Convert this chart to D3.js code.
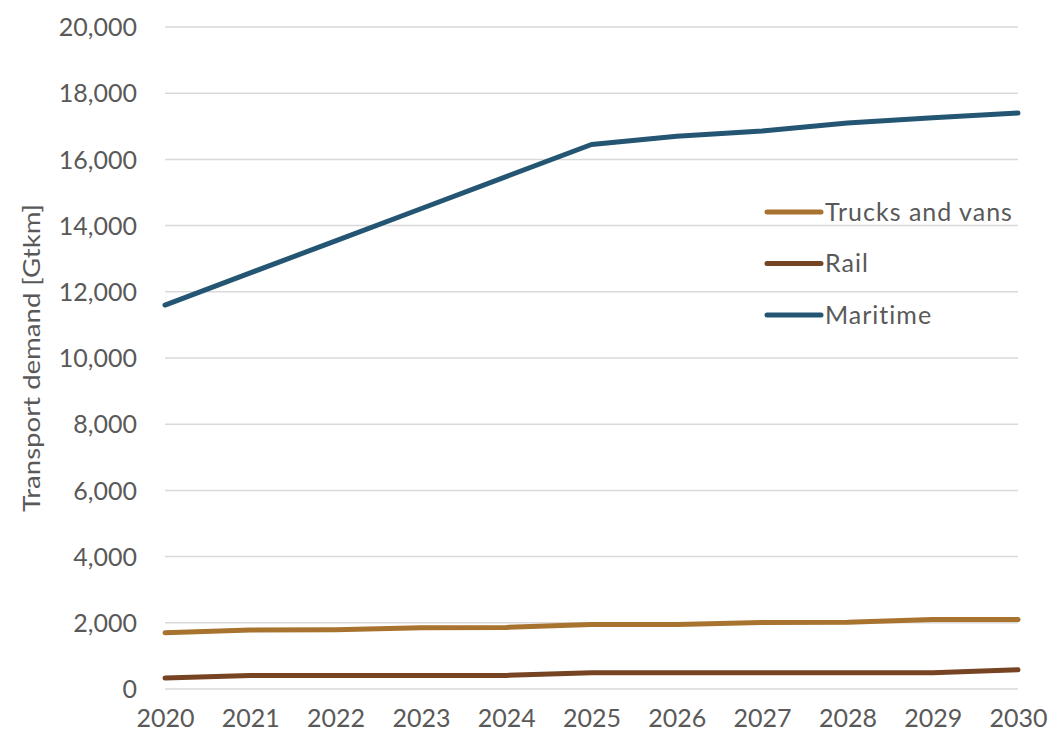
<!DOCTYPE html>
<html>
<head>
<meta charset="utf-8">
<script src="https://cdn.jsdelivr.net/npm/d3@7"></script>
<style>
  html, body { margin: 0; padding: 0; background: #fff; }
  svg text { font-family: Lato, "Open Sans", sans-serif; fill: #595959; }
</style>
</head>
<body>
<svg id="chart" width="1053" height="737"></svg>
<script>
// Freight transport demand by mode, 2020–2030 (Gtkm)
const years = [2020, 2021, 2022, 2023, 2024, 2025, 2026, 2027, 2028, 2029, 2030];
const trucksVans = [1700, 1780, 1790, 1850, 1860, 1950, 1950, 2010, 2020, 2100, 2100];
const rail = [330, 410, 410, 410, 410, 490, 490, 490, 490, 490, 580];
const maritime = [11600, 12570, 13540, 14510, 15480, 16450, 16700, 16860, 17100, 17260, 17400];
const seriesNames = ["Trucks and vans", "Rail", "Maritime"];
const seriesColors = ["#A8722F", "#764422", "#245674"];
const yTicks = [0, 2000, 4000, 6000, 8000, 10000, 12000, 14000, 16000, 18000, 20000];
const yTitle = "Transport demand [Gtkm]";

const series = [trucksVans, rail, maritime].map((values, i) => ({
  name: seriesNames[i], color: seriesColors[i], values
}));

const svg = d3.select("#chart");
const margin = { left: 165, right: 35, top: 27, bottom: 48 };
const W = 1053, H = 737;
const fontSize = "25px";

const x = d3.scaleLinear().domain([2020, 2030]).range([margin.left, W - margin.right]);
const y = d3.scaleLinear().domain([0, 20000]).range([H - margin.bottom, margin.top]);

// Horizontal gridlines
svg.append("g")
  .selectAll("line")
  .data(yTicks)
  .join("line")
  .attr("x1", x(2020)).attr("x2", x(2030))
  .attr("y1", d => y(d)).attr("y2", d => y(d))
  .attr("stroke", "#D9D9D9").attr("stroke-width", 1.5);

// Y axis labels
const fmt = d3.format(",");
const yAxis = svg.append("g")
  .attr("transform", `translate(${margin.left - 28},0)`)
  .call(d3.axisLeft(y).tickValues(yTicks).tickFormat(fmt).tickSize(0).tickPadding(0));
yAxis.select(".domain").remove();
yAxis.selectAll("text")
  .style("font-size", fontSize)
  .attr("dy", "0.35em")
  .style("fill", "#595959");

// X axis labels
const xAxis = svg.append("g")
  .attr("transform", `translate(0,${H - margin.bottom})`)
  .call(d3.axisBottom(x).tickValues(years).tickFormat(d3.format("d")).tickSize(0).tickPadding(20));
xAxis.select(".domain").remove();
xAxis.selectAll("text")
  .style("font-size", fontSize)
  .style("fill", "#595959");

// Y axis title (narrow, fitted to its span)
svg.append("text")
  .attr("transform", `translate(40,${(y(0) + y(20000)) / 2}) rotate(-90)`)
  .attr("text-anchor", "middle")
  .attr("textLength", 308)
  .attr("lengthAdjust", "spacingAndGlyphs")
  .style("font-size", "24px")
  .text(yTitle);

// Series lines
const line = d3.line()
  .x((d, i) => x(years[i]))
  .y(d => y(d));

svg.append("g")
  .selectAll("path")
  .data(series)
  .join("path")
  .attr("d", d => line(d.values))
  .attr("fill", "none")
  .attr("stroke", d => d.color)
  .attr("stroke-width", 5)
  .attr("stroke-linecap", "round")
  .attr("stroke-linejoin", "round");

// Legend
const legend = svg.append("g").attr("transform", "translate(767,212)");
const items = legend.selectAll("g")
  .data(series)
  .join("g")
  .attr("transform", (d, i) => `translate(0,${i * 51.5})`);
items.append("line")
  .attr("x1", 0).attr("x2", 54)
  .attr("y1", 0).attr("y2", 0)
  .attr("stroke", d => d.color)
  .attr("stroke-width", 5)
  .attr("stroke-linecap", "round");
items.append("text")
  .attr("x", 58)
  .attr("dy", "0.35em")
  .style("font-size", fontSize)
  .style("letter-spacing", "1px")
  .text(d => d.name);
</script>
</body>
</html>
